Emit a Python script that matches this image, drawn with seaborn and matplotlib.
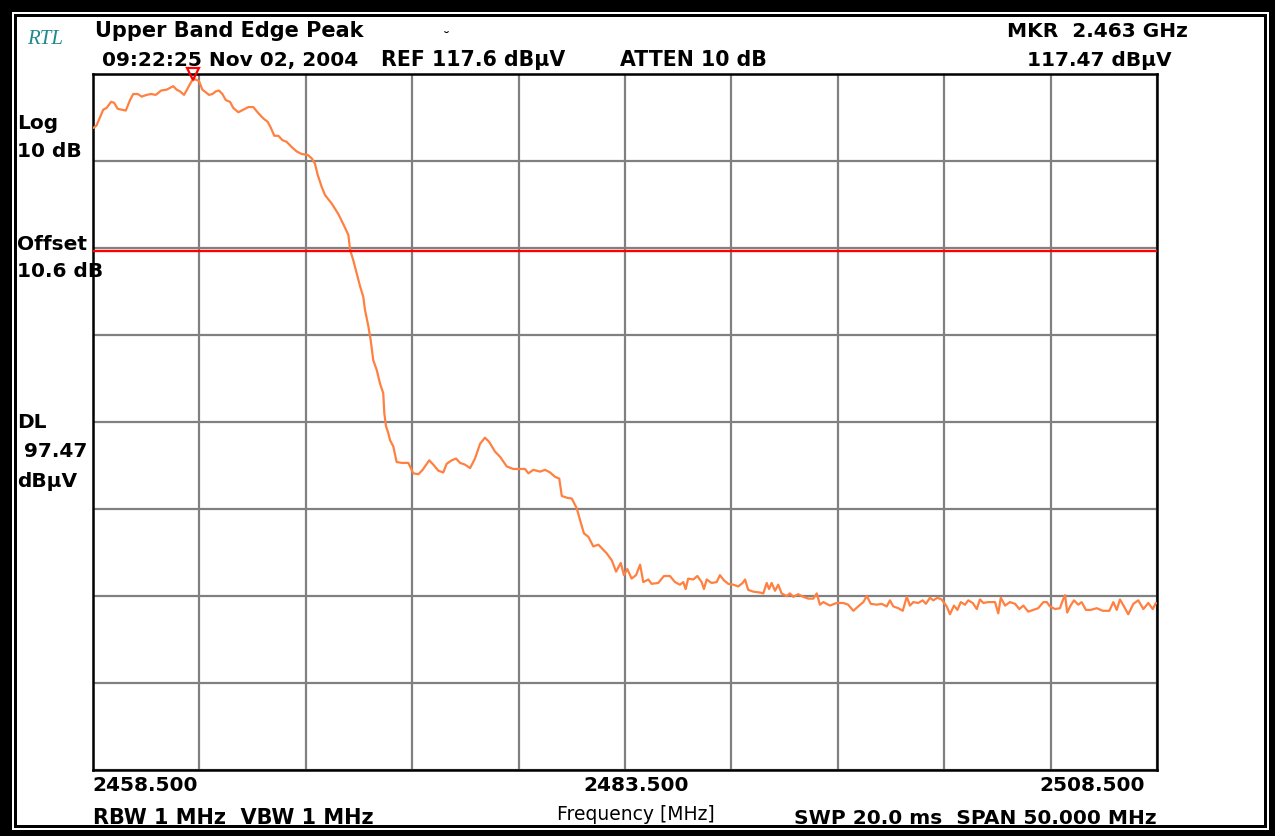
import matplotlib
matplotlib.use("Agg")
import matplotlib.pyplot as plt
from matplotlib.patches import Rectangle
import numpy as np
import pandas as pd
import seaborn as sns

# ---------------- data ----------------
freq_mhz = [
    2458.52, 2458.67, 2458.98, 2459.14, 2459.35, 2459.49, 2459.66, 2459.85, 2460.04, 2460.24,
    2460.39, 2460.60, 2460.79, 2461.02, 2461.23, 2461.45, 2461.70, 2461.96, 2462.12, 2462.27,
    2462.43, 2462.59, 2462.78, 2462.98, 2463.14, 2463.29, 2463.48, 2463.64, 2463.80, 2463.95,
    2464.11, 2464.27, 2464.42, 2464.58, 2464.74, 2464.94, 2465.09, 2465.33, 2465.56, 2465.80,
    2466.03, 2466.27, 2466.50, 2466.71, 2466.86, 2467.02, 2467.21, 2467.40, 2467.60, 2467.84,
    2468.07, 2468.31, 2468.59, 2468.78, 2468.93, 2469.06, 2469.25, 2469.40, 2469.72, 2470.03,
    2470.31, 2470.50, 2470.58, 2470.73, 2470.89, 2471.05, 2471.20, 2471.28, 2471.44, 2471.55,
    2471.67, 2471.83, 2471.99, 2472.14, 2472.19, 2472.27, 2472.38, 2472.46, 2472.61, 2472.77,
    2473.01, 2473.32, 2473.55, 2473.79, 2473.99, 2474.30, 2474.49, 2474.73, 2474.96, 2475.12,
    2475.36, 2475.56, 2475.75, 2475.98, 2476.22, 2476.45, 2476.69, 2476.92, 2477.12, 2477.39,
    2477.63, 2477.94, 2478.25, 2478.57, 2478.80, 2478.96, 2479.19, 2479.51, 2479.74, 2479.98,
    2480.21, 2480.41, 2480.53, 2480.76, 2481.00, 2481.23, 2481.39, 2481.57, 2481.78, 2482.01,
    2482.25, 2482.64, 2482.88, 2483.08, 2483.30, 2483.45, 2483.61, 2483.81, 2484.02, 2484.21,
    2484.36, 2484.60, 2484.75, 2485.06, 2485.33, 2485.61, 2485.85, 2486.08, 2486.24, 2486.35,
    2486.47, 2486.71, 2486.90, 2487.10, 2487.21, 2487.34, 2487.57, 2487.81, 2487.96, 2488.15,
    2488.35, 2488.59, 2488.82, 2489.03, 2489.14, 2489.29, 2489.53, 2489.84, 2490.00, 2490.16,
    2490.27, 2490.39, 2490.55, 2490.70, 2490.86, 2491.10, 2491.25, 2491.41, 2491.64, 2491.88,
    2492.11, 2492.35, 2492.51, 2492.66, 2492.82, 2493.13, 2493.45, 2493.76, 2493.99, 2494.23,
    2494.46, 2494.70, 2494.86, 2495.05, 2495.33, 2495.56, 2495.80, 2495.95, 2496.11, 2496.34,
    2496.55, 2496.74, 2496.89, 2497.05, 2497.28, 2497.49, 2497.64, 2497.83, 2497.99, 2498.18,
    2498.38, 2498.62, 2498.77, 2498.96, 2499.12, 2499.28, 2499.48, 2499.63, 2499.84, 2500.03,
    2500.18, 2500.34, 2500.57, 2500.89, 2501.04, 2501.16, 2501.36, 2501.59, 2501.83, 2502.03,
    2502.22, 2502.45, 2502.69, 2502.92, 2503.16, 2503.32, 2503.47, 2503.71, 2503.94, 2504.07,
    2504.18, 2504.28, 2504.44, 2504.60, 2504.80, 2504.96, 2505.16, 2505.38, 2505.67, 2505.95,
    2506.26, 2506.45, 2506.61, 2506.76, 2506.95, 2507.15, 2507.39, 2507.62, 2507.86, 2508.09,
    2508.30, 2508.45,
]
level_dbuv = [
    111.4, 111.7, 113.5, 113.7, 114.4, 114.3, 113.6, 113.5, 113.4, 114.6,
    115.3, 115.3, 115.0, 115.2, 115.3, 115.2, 115.7, 115.8, 116.0, 116.2,
    115.8, 115.6, 115.2, 116.1, 116.8, 117.0, 116.8, 115.8, 115.5, 115.2,
    115.3, 115.6, 115.7, 115.3, 114.6, 114.4, 113.7, 113.2, 113.5, 113.8,
    113.8, 113.1, 112.5, 112.1, 111.4, 110.5, 110.5, 110.0, 109.8, 109.2,
    108.7, 108.4, 108.3, 107.9, 107.3, 106.0, 104.6, 103.7, 102.7, 101.5,
    100.1, 99.1, 97.4, 96.2, 94.7, 93.2, 92.0, 90.5, 88.6, 87.0,
    84.7, 83.6, 82.0, 80.9, 78.6, 77.1, 76.3, 75.5, 74.8, 73.0,
    72.9, 72.9, 71.7, 71.6, 72.1, 73.2, 72.7, 72.0, 71.8, 72.8,
    73.2, 73.4, 72.9, 72.7, 72.3, 73.4, 75.1, 75.8, 75.3, 74.2,
    73.6, 72.5, 72.2, 72.2, 72.2, 71.7, 72.1, 71.9, 72.1, 71.8,
    71.3, 71.1, 69.1, 68.9, 68.8, 67.7, 66.3, 64.8, 64.4, 63.3,
    63.5, 62.5, 61.7, 60.4, 61.4, 60.0, 60.7, 59.6, 60.0, 61.2,
    59.2, 59.5, 59.0, 59.1, 59.9, 59.9, 59.2, 58.9, 59.2, 58.4,
    59.6, 59.5, 59.9, 59.2, 58.4, 59.5, 59.1, 59.2, 60.0, 59.4,
    59.0, 58.9, 58.7, 59.1, 59.5, 58.3, 58.1, 58.0, 57.9, 59.1,
    58.4, 59.1, 58.2, 58.9, 57.9, 57.6, 57.9, 57.5, 57.8, 57.5,
    57.3, 57.3, 57.9, 56.6, 56.9, 56.5, 56.8, 56.8, 56.6, 55.9,
    56.4, 56.9, 57.6, 56.7, 56.6, 56.7, 56.4, 57.1, 56.4, 56.2,
    55.9, 57.5, 56.5, 56.9, 56.8, 57.1, 56.7, 57.4, 57.1, 57.4,
    57.2, 56.4, 55.5, 56.5, 56.0, 56.9, 56.6, 57.1, 56.8, 56.1,
    57.2, 56.8, 56.9, 56.9, 55.6, 57.4, 56.5, 56.9, 56.7, 56.1,
    56.5, 55.8, 56.0, 56.2, 56.9, 56.9, 56.4, 56.1, 56.2, 57.1,
    57.7, 55.7, 56.5, 57.1, 56.6, 56.9, 56.0, 56.0, 56.2, 55.9,
    55.9, 56.9, 56.0, 57.2, 56.4, 55.5, 56.7, 57.1, 56.1, 56.8,
    56.1, 56.8,
]

start_mhz = 2458.5
stop_mhz = 2508.5
ref_level = 117.6
db_per_div = 10
n_ydiv = 8
n_xdiv = 10
display_line = 97.2          # DL line as drawn on the screen
marker_freq = 2463.2
marker_level = 117.65

x_tick_labels = ["2458.500", "2483.500", "2508.500"]
left_labels = ["Log", "10 dB", "Offset", "10.6 dB", "DL", " 97.47", "dBµV"]

W, H = 1275, 836

sns.set_theme(style="white")
plt.rcParams["font.family"] = ["DejaVu Sans"]

fig = plt.figure(figsize=(W / 100, H / 100), dpi=100, facecolor="black")


def px_rect(x0, y0, x1, y1, color, z):
    fig.add_artist(Rectangle((x0 / W, 1 - y1 / H), (x1 - x0) / W, (y1 - y0) / H,
                             transform=fig.transFigure, facecolor=color,
                             edgecolor="none", zorder=z))


px_rect(12, 12, 1269, 830, "white", -30)
px_rect(14, 14, 1267, 828, "black", -29)
px_rect(17, 17, 1264, 825, "white", -28)

ax = fig.add_axes([93 / W, 1 - 770 / H, (1157 - 93) / W, (770 - 74) / H])
ax.set_facecolor("white")

df = pd.DataFrame({"freq": freq_mhz, "level": level_dbuv})
sns.lineplot(data=df, x="freq", y="level", ax=ax, color="#FF8040",
             linewidth=1.6, estimator=None, sort=True, zorder=3)

ax.axhline(display_line, color="#FF0000", linewidth=1.7, zorder=4)
ax.plot([marker_freq], [marker_level], marker="v", markersize=9,
        markerfacecolor="none", markeredgecolor="#FF0000",
        markeredgewidth=1.6, linestyle="none", clip_on=False, zorder=12)

ax.set_xlim(start_mhz, stop_mhz)
ax.set_ylim(ref_level - n_ydiv * db_per_div, ref_level)
ax.set_xticks(np.linspace(start_mhz, stop_mhz, n_xdiv + 1))
ax.set_yticks(np.linspace(ref_level - n_ydiv * db_per_div, ref_level, n_ydiv + 1))
ax.set_xticklabels([])
ax.set_yticklabels([])
ax.tick_params(length=0)
ax.set_xlabel("")
ax.set_ylabel("")
ax.grid(True, color="#808080", linewidth=1.6, zorder=1)
ax.set_axisbelow(True)
for sp in ax.spines.values():
    sp.set_visible(True)
    sp.set_color("black")
    sp.set_linewidth(1.8)
ax.set_zorder(5)


def ftext(x, y, s, ha="left", size=14.5, weight="bold", **kw):
    fig.text(x / W, 1 - y / H, s, ha=ha, va="baseline", fontsize=size,
             fontweight=weight, color=kw.pop("color", "black"), zorder=10, **kw)


ftext(27, 44, "RTL", size=15, weight="normal", color="#1F8A8A",
      family="Liberation Serif", style="italic")
ftext(95, 37, "Upper Band Edge Peak", size=15)
ftext(102, 66, "09:22:25 Nov 02, 2004")
ftext(381, 66, "REF 117.6 dBµV", size=14.8)
ftext(620, 66, "ATTEN 10 dB", size=14.8)
ftext(443, 42, "˘", size=10)
ftext(1188, 37, "MKR  2.463 GHz", ha="right")
ftext(1172, 66, "117.47 dBµV", ha="right")

left_baselines = [129, 157, 250, 277, 428, 457, 487]
for s, yb in zip(left_labels, left_baselines):
    ftext(17, yb, s)

ftext(92, 791, x_tick_labels[0])
ftext(583, 791, x_tick_labels[1])
ftext(1145, 791, x_tick_labels[2], ha="right")
ftext(93, 824, "RBW 1 MHz  VBW 1 MHz", size=15)
ftext(557, 820, "Frequency [MHz]", size=13.5, weight="normal")
ftext(1157, 824, "SWP 20.0 ms  SPAN 50.000 MHz", ha="right")

fig.savefig("out.png", dpi=100, facecolor="black")
